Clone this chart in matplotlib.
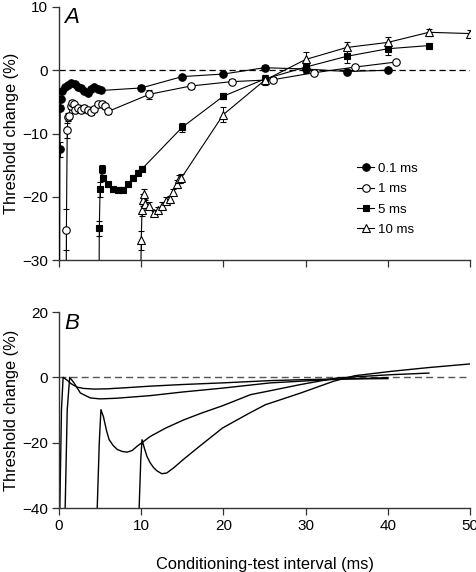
import matplotlib
matplotlib.use("Agg")
import matplotlib.pyplot as plt
from matplotlib.lines import Line2D
import numpy as np

plt.rcParams['font.family'] = ['Liberation Sans', 'DejaVu Sans']

# ---------------- Panel A data ----------------
x_01 = [0.05, 0.1, 0.15, 0.2, 0.4, 0.7, 1.1, 1.5, 1.9, 2.3, 2.7, 3.1, 3.5, 3.9, 4.3, 4.7, 5.1, 10, 15, 20, 25, 30, 35, 40]
y_01 = [-45, -12.5, -5.9, -4.6, -3.3, -2.7, -2.3, -2.0, -2.2, -2.7, -2.8, -3.3, -3.6, -3.0, -2.7, -3.0, -3.2, -2.8, -1.0, -0.6, 0.4, 0.2, -0.2, 0.0]
e_01 = [0, 1.2, 0.4, 0.3, 0.3, 0.3, 0.3, 0.3, 0.3, 0.3, 0.3, 0.3, 0.3, 0.3, 0.3, 0.3, 0.3, 0.4, 0.3, 0.3, 0.4, 0.4, 0.3, 0.3]

x_1 = [0.85, 0.9, 1.0, 1.1, 1.2, 1.4, 1.6, 1.8, 2.0, 2.3, 2.7, 3.1, 3.5, 3.9, 4.3, 4.8, 5.2, 5.6, 6.0, 11, 16, 21, 26, 31, 36, 41]
y_1 = [-45, -25.2, -9.5, -7.4, -7.2, -5.7, -5.1, -5.4, -6.3, -5.9, -6.3, -5.9, -6.3, -6.6, -6.2, -5.4, -5.3, -5.7, -6.5, -3.8, -2.5, -1.8, -1.5, -0.4, 0.5, 1.3]
e_1 = [0, 3.2, 1.2, 0.6, 0.5, 0.4, 0.4, 0.4, 0.4, 0.4, 0.4, 0.4, 0.4, 0.4, 0.4, 0.4, 0.4, 0.4, 0.4, 0.7, 0.4, 0.4, 0.4, 0.4, 0.3, 0.3]

x_5 = [4.85, 4.9, 5.0, 5.2, 5.4, 6.0, 6.6, 7.2, 7.8, 8.4, 9.0, 9.6, 10.1, 15, 20, 25, 30, 35, 40, 45]
y_5 = [-45, -25.0, -18.8, -15.6, -17.0, -18.0, -18.8, -18.9, -18.9, -18.0, -17.0, -16.2, -15.6, -9.0, -4.1, -1.4, 0.5, 2.2, 3.4, 3.9]
e_5 = [0, 1.2, 1.2, 0.6, 0.5, 0.4, 0.4, 0.4, 0.4, 0.4, 0.4, 0.4, 0.4, 0.7, 0.5, 0.7, 1.0, 1.0, 1.0, 0.3]

x_10 = [9.85, 10.0, 10.1, 10.2, 10.3, 10.5, 10.9, 11.5, 12.0, 12.5, 13.0, 13.5, 13.9, 14.3, 14.6, 14.9, 20, 25, 30, 35, 40, 45, 50]
y_10 = [-45, -26.9, -22.1, -20.5, -19.5, -21.1, -21.4, -22.6, -22.1, -21.4, -20.6, -20.4, -19.3, -18.0, -17.2, -17.0, -7.0, -1.6, 1.7, 3.6, 4.4, 6.0, 5.8]
e_10 = [0, 1.5, 1.0, 0.9, 0.8, 0.6, 0.5, 0.5, 0.5, 0.5, 0.5, 0.5, 0.5, 0.6, 0.6, 0.6, 1.2, 0.8, 1.2, 0.8, 0.8, 0.6, 0.6]

labels = ["0.1 ms", "1 ms", "5 ms", "10 ms"]

# ---------------- Panel B model curves ----------------
bx_01 = [0.1, 0.1, 0.3, 0.5, 1.0, 1.5, 2.2, 3.0, 4.3, 6.0, 8.0, 11.1, 15.0, 19.9, 25.7, 30.0, 33.8, 40.0]
by_01 = [-45, -40, -10, 0.0, -0.9, -2.0, -3.0, -3.4, -3.6, -3.5, -3.2, -2.7, -2.2, -1.7, -1.0, -0.7, -0.5, -0.4]

bx_1 = [0.7, 0.75, 1.0, 1.3, 1.8, 2.6, 3.8, 5.0, 7.0, 11.1, 15.0, 19.9, 25.7, 30.0, 33.8, 40.0]
by_1 = [-45, -40, -10, 0.0, -1.6, -4.8, -6.3, -6.6, -6.4, -5.6, -4.5, -3.3, -1.7, -1.1, -0.6, -0.1]

bx_5 = [4.6, 4.65, 4.9, 5.1, 5.4, 5.8, 6.1, 6.6, 7.1, 7.7, 8.3, 8.9, 9.5, 11.1, 13.0, 15.2, 17.5, 19.9, 23.3, 25.3, 29.4, 33.8, 37.0, 40.3, 45.0]
by_5 = [-45, -40, -20, -9.9, -12.0, -16.5, -19.1, -20.9, -22.1, -22.7, -22.9, -22.4, -21.1, -18.1, -15.5, -13.0, -10.8, -8.7, -5.3, -4.3, -2.2, -0.2, 0.3, 0.8, 1.3]

bx_10 = [9.7, 9.75, 9.95, 10.1, 10.4, 10.7, 11.1, 11.5, 11.9, 12.5, 13.1, 14.0, 15.1, 17.1, 19.9, 23.2, 25.1, 29.4, 33.4, 36.0, 40.3, 45.0, 50.0]
by_10 = [-45, -40, -25, -19.1, -21.8, -24.2, -26.2, -27.6, -28.6, -29.5, -29.3, -27.6, -25.2, -21.1, -15.5, -10.9, -8.4, -4.8, -1.2, 0.5, 1.8, 3.0, 4.1]

# ---------------- Figure ----------------
fig = plt.figure(figsize=(4.76, 5.72), dpi=100)
axA = fig.add_axes([59/476, 1-260/572, (470-59)/476, (260-7)/572])
axB = fig.add_axes([59/476, 1-508/572, (470-59)/476, (508-312)/572])

styles = [
    dict(marker='o', mfc='black', mec='black', ms=5.4),
    dict(marker='o', mfc='white', mec='black', ms=5.4),
    dict(marker='s', mfc='black', mec='black', ms=5.0),
    dict(marker='^', mfc='white', mec='black', ms=5.4),
]
series = [(x_01, y_01, e_01), (x_1, y_1, e_1), (x_5, y_5, e_5), (x_10, y_10, e_10)]

axA.plot([0, 50], [0, 0], ls=(0, (5, 3)), color='black', lw=0.9, zorder=1)
handles = []
for (xs, ys, es), st, lab in zip(series, styles, labels):
    axA.errorbar(xs, ys, yerr=es, color='black', lw=0.8, elinewidth=0.7,
                 capsize=2.3, capthick=0.7, mew=0.8, zorder=3, **st)
    handles.append(Line2D([], [], color='black', lw=0.8, mew=0.8, **st))

axA.set_xlim(0, 50)
axA.set_ylim(-30, 10)
axA.set_yticks([10, 0, -10, -20, -30])
axA.set_xticks([0, 10, 20, 30, 40, 50])
axA.set_xticklabels([])
axA.set_ylabel("Threshold change (%)", fontsize=11.8, labelpad=2)
axA.text(0.6, 8.3, "A", fontsize=16, style='italic', ha='left', va='center')
axA.legend(handles=handles, labels=labels, loc='upper left',
           bbox_to_anchor=(0.725, 0.385), frameon=False, fontsize=9.5,
           handlelength=1.3, handletextpad=0.3, labelspacing=0.62,
           borderaxespad=0, borderpad=0)

axB.plot([0, 50], [0, 0], ls=(0, (5, 3)), color='#555555', lw=1.0, zorder=1)
for bx, by in [(bx_01, by_01), (bx_1, by_1), (bx_5, by_5), (bx_10, by_10)]:
    axB.plot(bx, by, color='black', lw=1.0, zorder=2)
axB.set_xlim(0, 50)
axB.set_ylim(-40, 20)
axB.set_yticks([20, 0, -20, -40])
axB.set_xticks([0, 10, 20, 30, 40, 50])
axB.set_ylabel("Threshold change (%)", fontsize=11.8, labelpad=2)
axB.set_xlabel("Conditioning-test interval (ms)", fontsize=11.8, labelpad=17)
axB.text(0.6, 16.5, "B", fontsize=16, style='italic', ha='left', va='center')

for ax in (axA, axB):
    for s in ('top', 'right'):
        ax.spines[s].set_visible(False)
    for s in ('left', 'bottom'):
        ax.spines[s].set_color('#333333')
        ax.spines[s].set_linewidth(1.0)
    ax.tick_params(direction='out', length=5, width=0.9, labelsize=11, colors='#333333',
                   labelcolor='black', pad=3)

fig.savefig("out.png", dpi=100)
